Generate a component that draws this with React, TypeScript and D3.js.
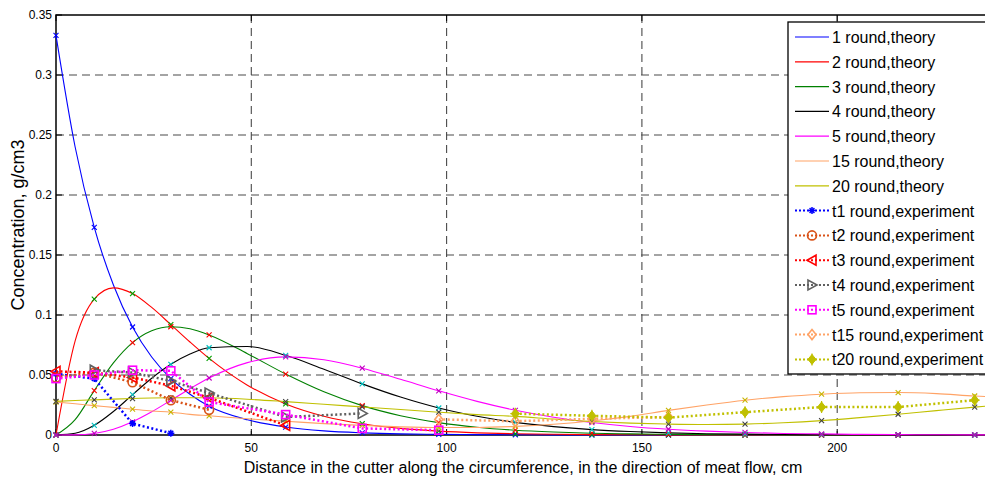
import React, { useRef, useEffect } from 'react';
import * as d3 from 'd3';

// theory curves, sampled along the circumference (cm)
const thX = [0, 4.9, 9.8, 14.7, 19.6, 24.5, 29.4, 34.3, 39.2, 49, 58.8, 68.6, 78.4, 88.2, 98, 107.8, 117.6, 127.4, 137.2, 147, 156.8, 166.6, 176.4, 186.2, 196, 205.8, 215.6, 225.4, 235.2, 240];
const th1 = [0.333, 0.240, 0.173, 0.125, 0.090, 0.065, 0.047, 0.034, 0.024, 0.0127, 0.0066, 0.0034, 0.0018, 0.0009, 0.0005, 0.0003, 0.0002, 0.0001, 0, 0, 0, 0, 0, 0, 0, 0, 0, 0, 0, 0];
const th2 = [0, 0.0785, 0.1133, 0.1226, 0.1179, 0.1063, 0.092, 0.0775, 0.0638, 0.0415, 0.0259, 0.0157, 0.0094, 0.0055, 0.0032, 0.0018, 0.001, 0.0006, 0.0003, 0.0002, 0.0001, 0, 0, 0, 0, 0, 0, 0, 0, 0];
const th3 = [0, 0.0128, 0.037, 0.0601, 0.077, 0.0868, 0.0902, 0.0885, 0.0834, 0.0678, 0.0508, 0.036, 0.0245, 0.0161, 0.0103, 0.0065, 0.004, 0.0025, 0.0015, 0.0009, 0.0005, 0.0003, 0.0002, 0.0001, 0, 0, 0, 0, 0, 0];
const th4 = [0, 0.0014, 0.0081, 0.0196, 0.0336, 0.0473, 0.0589, 0.0675, 0.0727, 0.0738, 0.0664, 0.0548, 0.0426, 0.0316, 0.0225, 0.0156, 0.0105, 0.007, 0.0045, 0.0029, 0.0018, 0.0011, 0.0007, 0.0004, 0.0003, 0.0002, 0.0001, 0.0001, 0, 0];
const th5 = [0, 0.0001, 0.0013, 0.0048, 0.011, 0.0193, 0.0289, 0.0386, 0.0475, 0.0603, 0.0651, 0.0627, 0.0557, 0.0464, 0.0368, 0.028, 0.0206, 0.0148, 0.0104, 0.0071, 0.0048, 0.0032, 0.0021, 0.0013, 0.0009, 0.0005, 0.0003, 0.0002, 0.0001, 0.0001];
const th15 = [0.0275, 0.026, 0.0245, 0.023, 0.0215, 0.02, 0.019, 0.0172, 0.016, 0.0135, 0.0115, 0.0095, 0.008, 0.0068, 0.0062, 0.0063, 0.0072, 0.009, 0.0117, 0.0155, 0.0205, 0.025, 0.029, 0.032, 0.034, 0.0352, 0.0354, 0.0345, 0.0325, 0.0318];
const th20 = [0.028, 0.0287, 0.0293, 0.0299, 0.0304, 0.0308, 0.031, 0.0311, 0.031, 0.0298, 0.0278, 0.0256, 0.0234, 0.0212, 0.019, 0.017, 0.0155, 0.0133, 0.0113, 0.0099, 0.0091, 0.0087, 0.0091, 0.0102, 0.012, 0.0145, 0.0173, 0.0203, 0.0232, 0.0245];

// positions where the theory curves carry 'x' markers
const markX = [0, 9.8, 19.6, 29.4, 39.2, 58.8, 78.4, 98, 117.6, 137.2, 156.8, 176.4, 196, 215.6, 235.2];

// experiments
const ex1X = [0, 9.8, 19.6, 29.4];
const ex1 = [0.051, 0.047, 0.0095, 0.0015];
const ex2X = [0, 9.8, 19.6, 29.4, 39.2];
const ex2 = [0.048, 0.052, 0.044, 0.029, 0.021];
const ex3X = [0, 9.8, 19.6, 29.4, 39.2, 58.8];
const ex3 = [0.053, 0.052, 0.048, 0.041, 0.031, 0.008];
const ex4X = [9.8, 19.6, 29.4, 39.2, 58.8, 78.4];
const ex4 = [0.054, 0.052, 0.045, 0.035, 0.015, 0.018];
const ex5X = [0, 9.8, 19.6, 29.4, 39.2, 58.8, 78.4, 98];
const ex5 = [0.047, 0.05, 0.054, 0.0535, 0.0275, 0.017, 0.0055, 0.004];
const ex15X = [98, 117.6, 137.2, 156.8];
const ex15 = [0.013, 0.0115, 0.0135, 0.015];
const ex20X = [117.6, 137.2, 156.8, 176.4, 196, 215.6, 235.2];
const ex20 = [0.0178, 0.016, 0.0145, 0.019, 0.0233, 0.0233, 0.029];

const xTicks = [0, 50, 100, 150, 200];
const yTicks = [0, 0.05, 0.1, 0.15, 0.2, 0.25, 0.3, 0.35];

const theory = [
  { name: '1 round,theory', values: th1, color: '#0000ff', mark: '#0000ff' },
  { name: '2 round,theory', values: th2, color: '#ff0000', mark: '#00a000' },
  { name: '3 round,theory', values: th3, color: '#008000', mark: '#ff0000' },
  { name: '4 round,theory', values: th4, color: '#000000', mark: '#00c0c0' },
  { name: '5 round,theory', values: th5, color: '#ff00ff', mark: '#c000c0' },
  { name: '15 round,theory', values: th15, color: '#ffa366', mark: '#c8b400' },
  { name: '20 round,theory', values: th20, color: '#c0c000', mark: '#404040' },
];

const experiments = [
  { name: 't1 round,experiment', xs: ex1X, values: ex1, color: '#0000ff', marker: 'star' },
  { name: 't2 round,experiment', xs: ex2X, values: ex2, color: '#d95319', marker: 'circle' },
  { name: 't3 round,experiment', xs: ex3X, values: ex3, color: '#ff0000', marker: 'triLeft' },
  { name: 't4 round,experiment', xs: ex4X, values: ex4, color: '#606060', marker: 'triRight' },
  { name: 't5 round,experiment', xs: ex5X, values: ex5, color: '#ff00ff', marker: 'square' },
  { name: 't15 round,experiment', xs: ex15X, values: ex15, color: '#ffa366', marker: 'diamond' },
  { name: 't20 round,experiment', xs: ex20X, values: ex20, color: '#c0c000', marker: 'filled' },
];

const FONT = '"Liberation Sans", Arial, Helvetica, sans-serif';

function drawMarker(g: any, type: string, cx: number, cy: number, color: string) {
  if (type === 'star') {
    const r = 3.5;
    g.append('path')
      .attr('d', `M${cx - r},${cy}H${cx + r}M${cx},${cy - r}V${cy + r}M${cx - r * 0.7},${cy - r * 0.7}L${cx + r * 0.7},${cy + r * 0.7}M${cx - r * 0.7},${cy + r * 0.7}L${cx + r * 0.7},${cy - r * 0.7}`)
      .attr('stroke', color).attr('stroke-width', 1.5).attr('fill', 'none');
  } else if (type === 'circle') {
    g.append('circle').attr('cx', cx).attr('cy', cy).attr('r', 4.5)
      .attr('fill', 'none').attr('stroke', color).attr('stroke-width', 1.6);
  } else if (type === 'triLeft') {
    g.append('path').attr('d', `M${cx - 5},${cy}L${cx + 4},${cy - 5}L${cx + 4},${cy + 5}Z`)
      .attr('fill', 'none').attr('stroke', color).attr('stroke-width', 1.6);
  } else if (type === 'triRight') {
    g.append('path').attr('d', `M${cx + 5},${cy}L${cx - 4},${cy - 5}L${cx - 4},${cy + 5}Z`)
      .attr('fill', 'none').attr('stroke', color).attr('stroke-width', 1.6);
  } else if (type === 'square') {
    g.append('rect').attr('x', cx - 4).attr('y', cy - 4).attr('width', 8).attr('height', 8)
      .attr('fill', 'none').attr('stroke', color).attr('stroke-width', 1.6);
  } else if (type === 'diamond') {
    g.append('path').attr('d', `M${cx},${cy - 5}L${cx + 4},${cy}L${cx},${cy + 5}L${cx - 4},${cy}Z`)
      .attr('fill', 'none').attr('stroke', color).attr('stroke-width', 1.6);
  } else if (type === 'filled') {
    g.append('path').attr('d', `M${cx},${cy - 5}L${cx + 4},${cy}L${cx},${cy + 5}L${cx - 4},${cy}Z`)
      .attr('fill', color).attr('stroke', color).attr('stroke-width', 1);
    g.append('path').attr('d', `M${cx - 5},${cy}H${cx + 5}M${cx},${cy - 6}V${cy + 6}`)
      .attr('stroke', color).attr('stroke-width', 1.2);
  } else if (type === 'x') {
    const r = 2.5;
    g.append('path').attr('d', `M${cx - r},${cy - r}L${cx + r},${cy + r}M${cx - r},${cy + r}L${cx + r},${cy - r}`)
      .attr('stroke', color).attr('stroke-width', 1.1).attr('fill', 'none');
  }
}

const App = () => {
  const chartRef = useRef<HTMLDivElement>(null);

  useEffect(() => {
    document.body.style.margin = '0';

    const W = 985;
    const H = 482;
    const left = 56, top = 15, bottom = 435;

    d3.select(chartRef.current).select('svg').remove();

    const svg = d3.select(chartRef.current)
      .append('svg')
      .attr('width', W)
      .attr('height', H)
      .style('display', 'block')
      .style('background', '#fff');

    const x = d3.scaleLinear().domain([0, 240]).range([left, left + 240 * 3.906]);
    const y = d3.scaleLinear().domain([0, 0.35]).range([bottom, top]);
    const right = W + 10;

    // grid
    const grid = svg.append('g').attr('stroke', '#4a4a4a').attr('stroke-width', 1.1).attr('stroke-dasharray', '8,5');
    yTicks.filter(t => t > 0 && t < 0.35).forEach(t => {
      grid.append('line').attr('x1', left).attr('x2', right).attr('y1', y(t)).attr('y2', y(t));
    });
    xTicks.filter(t => t > 0).forEach(t => {
      grid.append('line').attr('x1', x(t)).attr('x2', x(t)).attr('y1', top).attr('y2', bottom);
    });

    // axes box (left, top, bottom)
    svg.append('path')
      .attr('d', `M${right},${top}H${left}V${bottom}H${right}`)
      .attr('fill', 'none').attr('stroke', '#000').attr('stroke-width', 1.5);

    // inward ticks
    const ticks = svg.append('g').attr('stroke', '#000').attr('stroke-width', 1);
    yTicks.forEach(t => {
      ticks.append('line').attr('x1', left).attr('x2', left + 6).attr('y1', y(t)).attr('y2', y(t));
    });
    xTicks.forEach(t => {
      ticks.append('line').attr('x1', x(t)).attr('x2', x(t)).attr('y1', bottom).attr('y2', bottom - 6);
      ticks.append('line').attr('x1', x(t)).attr('x2', x(t)).attr('y1', top).attr('y2', top + 6);
    });

    // tick labels
    svg.append('g').selectAll('text')
      .data(yTicks)
      .enter()
      .append('text')
      .attr('x', left - 4)
      .attr('y', d => y(d) + 4)
      .attr('text-anchor', 'end')
      .style('font-family', FONT)
      .style('font-size', '12px')
      .text(d => String(+d.toFixed(2)));

    svg.append('g').selectAll('text')
      .data(xTicks)
      .enter()
      .append('text')
      .attr('x', d => x(d))
      .attr('y', bottom + 17)
      .attr('text-anchor', 'middle')
      .style('font-family', FONT)
      .style('font-size', '12px')
      .text(d => String(d));

    // axis titles
    svg.append('text')
      .attr('x', 523)
      .attr('y', 473)
      .attr('text-anchor', 'middle')
      .style('font-family', FONT)
      .style('font-size', '16px')
      .text('Distance in the cutter along the circumference, in the direction of meat flow, cm');

    svg.append('text')
      .attr('transform', 'translate(24,225) rotate(-90)')
      .attr('text-anchor', 'middle')
      .style('font-family', FONT)
      .style('font-size', '18px')
      .text('Concentration, g/cm3');

    // theory lines
    const line = d3.line<number>()
      .x((d, i) => x(thX[i]))
      .y(d => y(d))
      .curve(d3.curveMonotoneX);

    theory.forEach(s => {
      svg.append('path')
        .attr('d', line(s.values))
        .attr('fill', 'none')
        .attr('stroke', s.color)
        .attr('stroke-width', 1.1);
    });

    // theory markers
    const marks = svg.append('g');
    theory.forEach(s => {
      thX.forEach((xv, i) => {
        if (markX.includes(xv)) drawMarker(marks, 'x', x(xv), y(s.values[i]), s.mark);
      });
    });

    // experiments
    experiments.forEach(s => {
      const exLine = d3.line<number>()
        .x((d, i) => x(s.xs[i]))
        .y(d => y(d));
      svg.append('path')
        .attr('d', exLine(s.values))
        .attr('fill', 'none')
        .attr('stroke', s.color)
        .attr('stroke-width', 2.5)
        .attr('stroke-dasharray', '2,2.5');
      const g = svg.append('g');
      s.values.forEach((v, i) => drawMarker(g, s.marker, x(s.xs[i]), y(v), s.color));
    });

    // legend
    const lg = svg.append('g');
    lg.append('rect')
      .attr('x', 788).attr('y', 22)
      .attr('width', 220).attr('height', 352)
      .attr('fill', '#fff').attr('stroke', '#000').attr('stroke-width', 1.3);

    const rowY = (i: number) => 37 + i * 24.8;
    theory.forEach((s, i) => {
      lg.append('line').attr('x1', 795).attr('x2', 829).attr('y1', rowY(i)).attr('y2', rowY(i))
        .attr('stroke', s.color).attr('stroke-width', 1.2);
      lg.append('text').attr('x', 832).attr('y', rowY(i) + 6)
        .style('font-family', FONT).style('font-size', '16px').text(s.name);
    });
    experiments.forEach((s, j) => {
      const i = j + theory.length;
      lg.append('line').attr('x1', 795).attr('x2', 829).attr('y1', rowY(i)).attr('y2', rowY(i))
        .attr('stroke', s.color).attr('stroke-width', 2).attr('stroke-dasharray', '2,2');
      drawMarker(lg, s.marker, 812, rowY(i), s.color);
      lg.append('text').attr('x', 832).attr('y', rowY(i) + 6)
        .style('font-family', FONT).style('font-size', '16px').text(s.name);
    });
  }, []);

  return <div ref={chartRef}></div>;
};

export default App;
